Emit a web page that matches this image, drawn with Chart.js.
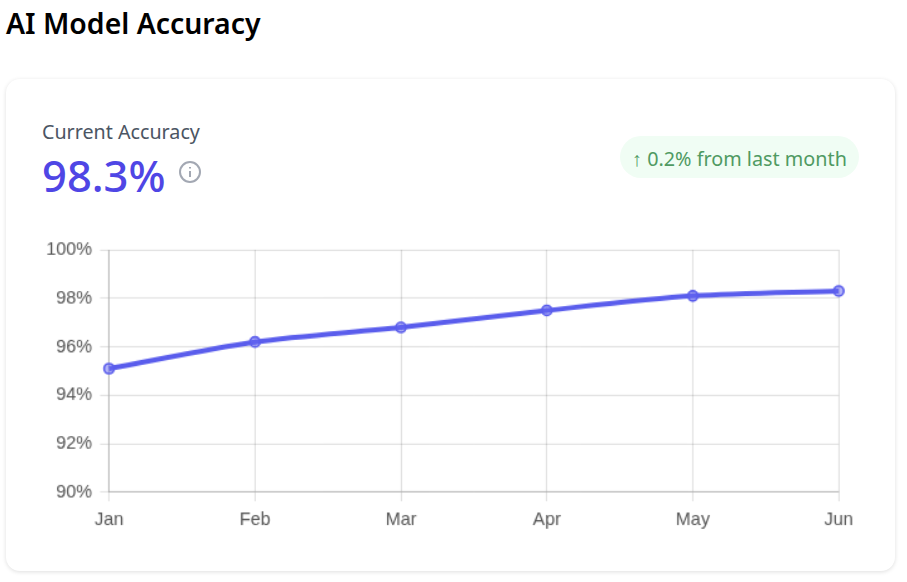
<!DOCTYPE html>
<html>

<head>
    <meta charset="UTF-8">
    <title>AI Model Accuracy</title>
    <script src="https://cdn.jsdelivr.net/npm/chart.js@4/dist/chart.umd.min.js"></script>
    <style>
        body { margin: 0; background: #fff; font-family: "Noto Sans", sans-serif; width: 907px; height: 582px; position: relative; overflow: hidden; }
        h1 { position: absolute; left: 6px; top: 4px; margin: 0; font-size: 28.4px; line-height: 38px; font-weight: 600; color: #000; }
        .card { position: absolute; left: 6px; top: 79px; width: 889px; height: 492px; border-radius: 14px; background: #fff; box-shadow: 0 1px 4px rgba(0, 0, 0, 0.13); }
        .label { position: absolute; left: 42px; top: 119px; font-size: 19.7px; line-height: 26px; color: #4b5563; }
        .value { position: absolute; left: 42px; top: 145px; font-size: 43.5px; line-height: 60px; font-weight: 500; color: #4f46e5; }
        .badge { position: absolute; left: 620px; top: 136px; width: 239px; height: 42px; border-radius: 21px; background: #f0fdf4; color: #4f9a62; font-size: 19.8px; line-height: 45px; text-align: center; white-space: nowrap; }
        .info { position: absolute; left: 178px; top: 160px; }
        .chart-box { position: absolute; left: 42px; top: 231px; width: 819px; height: 309px; }
    </style>
</head>

<body>
    <h1>AI Model Accuracy</h1>
    <div class="card"></div>
    <div class="label">Current Accuracy</div>
    <div class="value">98.3%</div>
    <svg class="info" width="24" height="24" viewBox="0 0 24 24" fill="none" stroke="#a3a8b3" stroke-width="2">
        <circle cx="12" cy="12" r="10"></circle>
        <line x1="12" y1="11" x2="12" y2="17"></line>
        <line x1="12" y1="7" x2="12" y2="8.5"></line>
    </svg>
    <div class="badge">↑ 0.2% from last month</div>
    <div class="chart-box"><canvas id="chart" width="819" height="309"></canvas></div>
    <script>
        const months = ['Jan', 'Feb', 'Mar', 'Apr', 'May', 'Jun'];
        const accuracy = [95.1, 96.2, 96.8, 97.5, 98.1, 98.3];
        const yMin = 90;
        const yMax = 100;
        const yStep = 2;

        Chart.defaults.font.family = '"Liberation Sans", Arial, sans-serif';
        Chart.defaults.font.size = 18;
        Chart.defaults.color = '#555';

        let ctx = document.getElementById('chart').getContext('2d');
        let chart = new Chart(ctx, {
            type: 'line',
            data: {
                labels: months,
                datasets: [{
                    label: 'Accuracy',
                    data: accuracy,
                    borderColor: '#5a5dec',
                    backgroundColor: 'rgba(99, 102, 241, 0.5)',
                    pointBackgroundColor: 'rgba(99, 102, 241, 0.5)',
                    pointBorderColor: '#5a5dec',
                    pointBorderWidth: 2,
                    pointRadius: 5,
                    borderWidth: 5,
                    tension: 0.3,
                    fill: false
                }]
            },
            options: {
                responsive: false,
                animation: false,
                devicePixelRatio: 0.8, // reference canvas looks upscaled and soft
                layout: { padding: { top: 1, right: 18 } },
                plugins: { legend: { display: false }, tooltip: { enabled: false } },
                scales: {
                    x: {
                        offset: false,
                        afterFit: scale => { scale.height = 48; },
                        grid: { color: 'rgba(0, 0, 0, 0.17)', tickLength: 9 },
                        border: { color: 'rgba(0, 0, 0, 0.26)' },
                        ticks: { maxRotation: 0, padding: 8 }
                    },
                    y: {
                        min: yMin,
                        max: yMax,
                        afterFit: scale => { scale.width = 67; },
                        grid: { color: 'rgba(0, 0, 0, 0.17)', tickLength: 9 },
                        border: { color: 'rgba(0, 0, 0, 0.26)' },
                        ticks: { stepSize: yStep, padding: 8, callback: v => v + '%' }
                    }
                }
            }
        });
    </script>
</body>

</html>
